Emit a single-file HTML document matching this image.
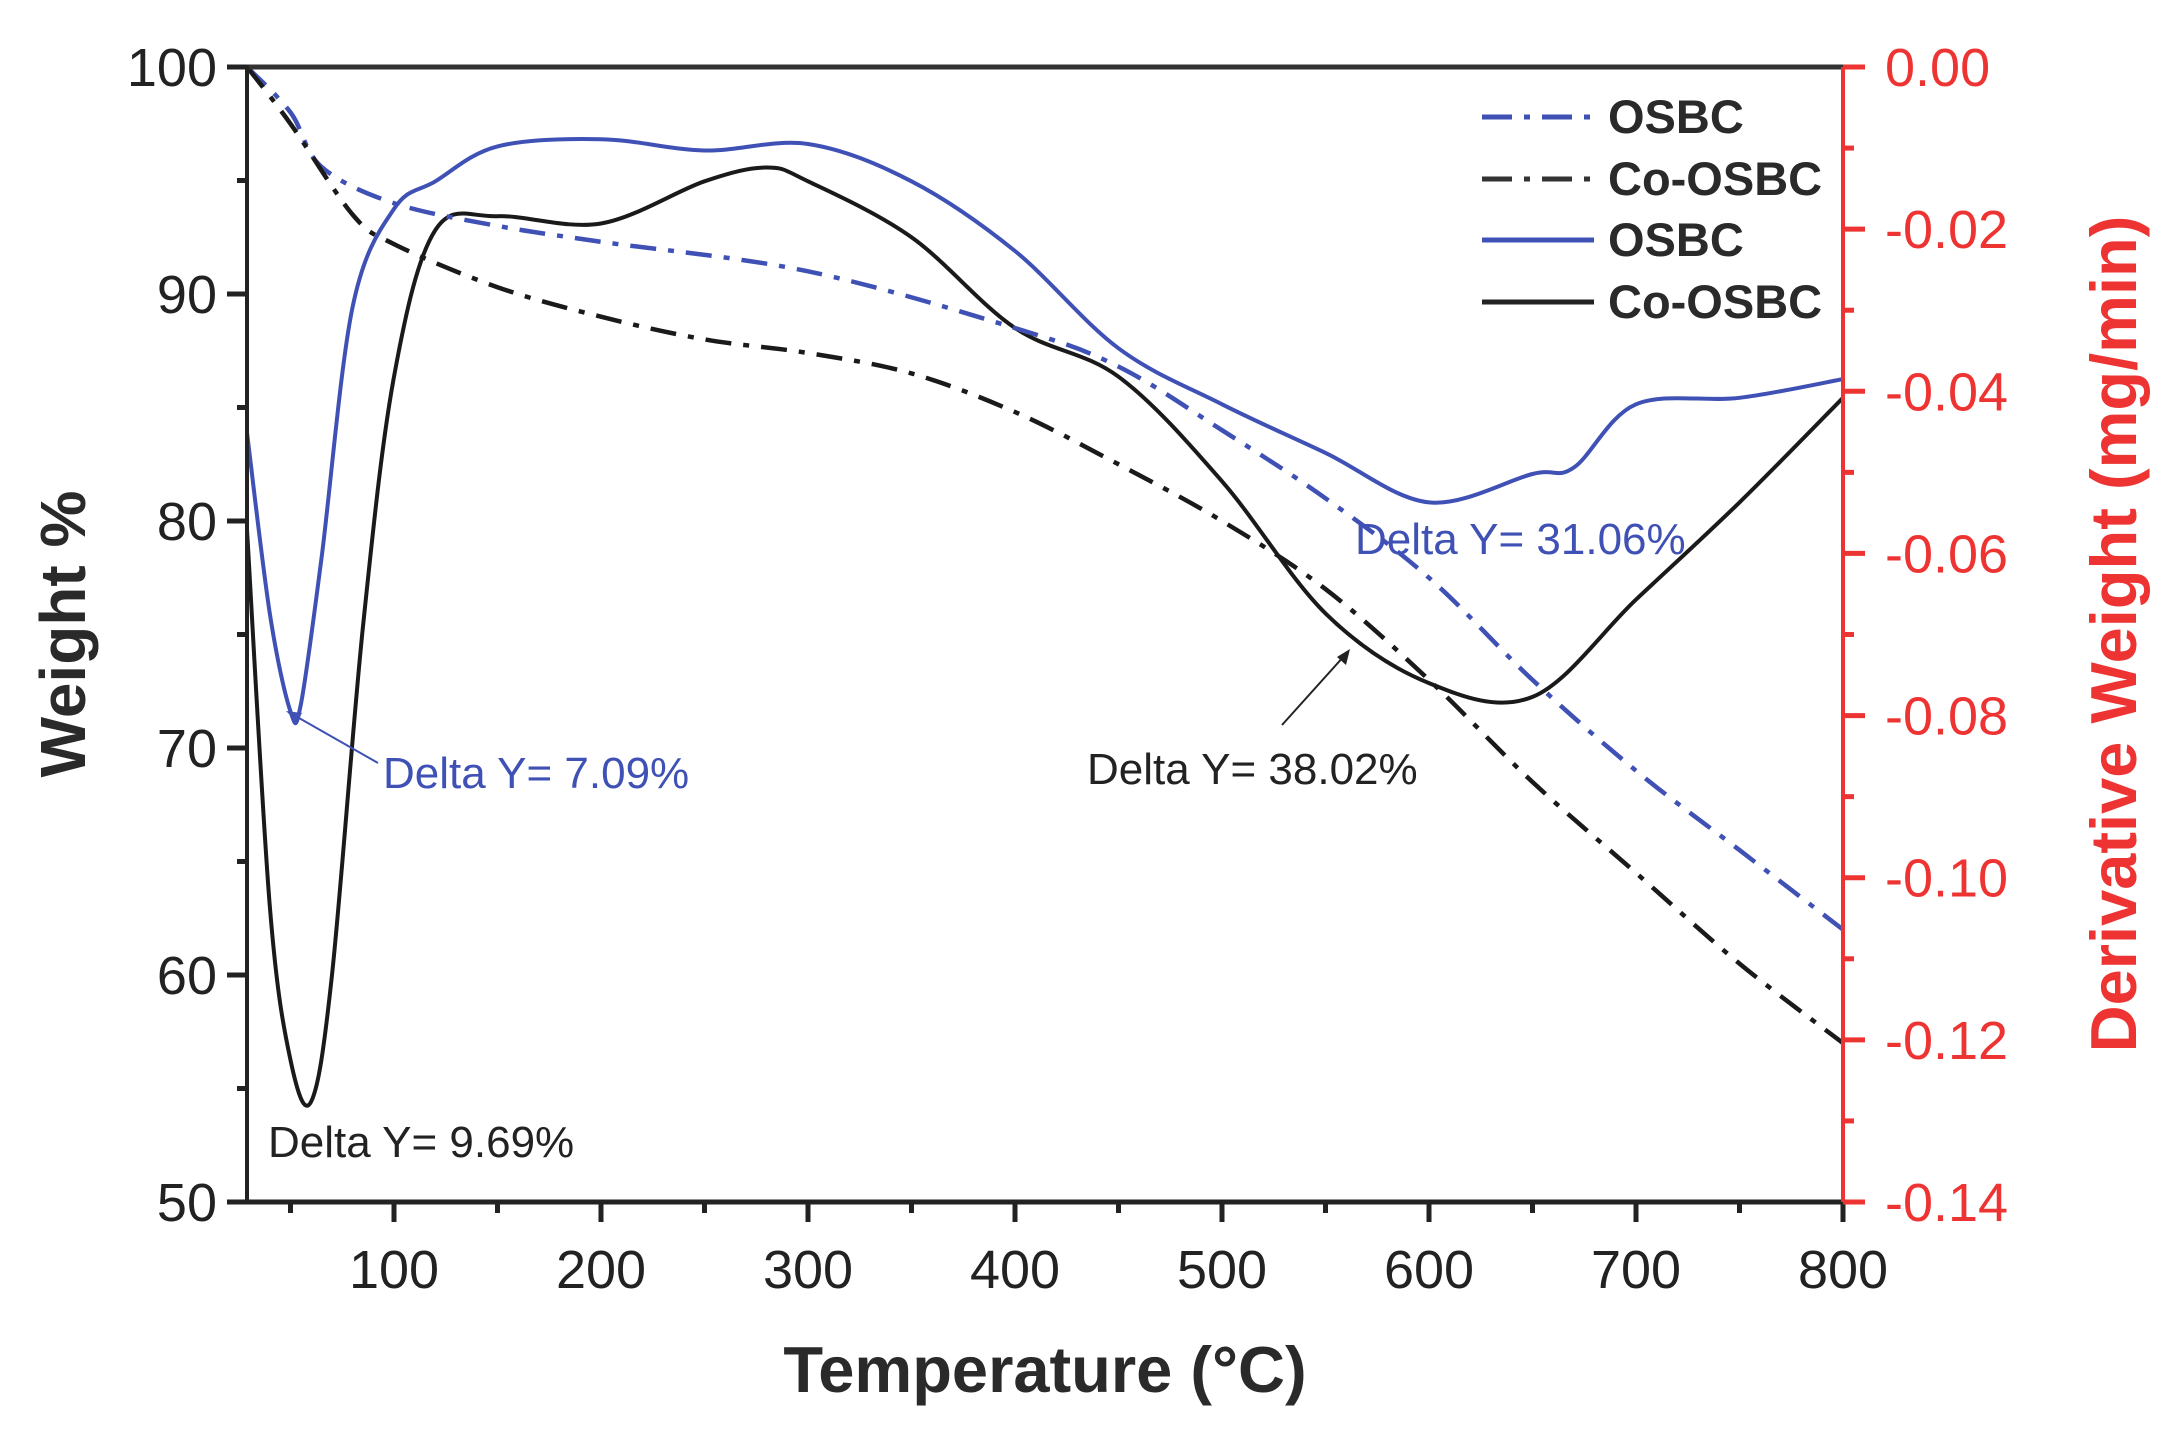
<!DOCTYPE html>
<html><head><meta charset="utf-8"><style>
html,body{margin:0;padding:0;background:#fff;}
svg{display:block;font-family:"Liberation Sans",Arial,sans-serif;}
</style></head><body>
<svg id="chart" width="2175" height="1453" viewBox="0 0 2175 1453">
<g id="marks"></g>
<g id="axes"></g>
</svg>
<script>
const osbcWeightT = [29,50,65,100,150,200,300,400,450,500,550,600,650,700,750,800];
const osbcWeight = [100,98,95.6,94,93,92.3,91,88.5,86.8,84,81,77.5,73,69,65.5,62];
const coWeightT = [29,50,80,100,150,200,250,300,350,400,450,500,550,600,650,700,750,800];
const coWeight = [100,97.5,93.5,92.2,90.3,89,88,87.4,86.5,84.8,82.5,80,77,73,68.5,64.5,60.5,57];
const osbcDerivT = [29,40,50,55,65,80,100,120,150,200,250,300,350,400,450,500,550,600,650,670,700,750,800];
const osbcDeriv = [-0.0451,-0.0674,-0.0795,-0.0786,-0.0605,-0.0296,-0.0175,-0.0141,-0.0098,-0.0089,-0.0103,-0.0095,-0.0141,-0.0227,-0.0347,-0.0416,-0.0476,-0.0537,-0.0502,-0.0494,-0.0416,-0.0408,-0.0385];
const coDerivT = [29,40,50,60,70,85,100,120,150,200,250,280,300,350,400,450,500,550,600,650,700,750,800];
const coDeriv = [-0.0571,-0.1035,-0.1225,-0.1276,-0.1121,-0.0691,-0.0382,-0.0201,-0.0184,-0.0193,-0.0141,-0.0124,-0.0141,-0.021,-0.0322,-0.0382,-0.0511,-0.0674,-0.076,-0.0777,-0.0657,-0.0537,-0.0408];
const xTicks = [100,200,300,400,500,600,700,800];
const yTicks = [50,60,70,80,90,100];
const y2Ticks = [0,-0.02,-0.04,-0.06,-0.08,-0.10,-0.12,-0.14];
const y2Labels = ["0.00","-0.02","-0.04","-0.06","-0.08","-0.10","-0.12","-0.14"];

const L=247,R=1843,T=67,B=1202;
const xS=t=>394+(t-100)*(R-394)/700;
const yS=w=>T+(100-w)*(B-T)/50;
const y2S=d=>T+(-d)*(B-T)/0.14;
const NS="http://www.w3.org/2000/svg";
const marks=document.getElementById('marks'), axes=document.getElementById('axes');
function mk(tag,attrs,parent){const e=document.createElementNS(NS,tag);for(const k in attrs)e.setAttribute(k,attrs[k]);parent.appendChild(e);return e;}
function path(xs,ys,fy){
  const P=xs.map((t,i)=>[xS(t),fy(ys[i])]);
  let d='M'+P[0][0].toFixed(1)+','+P[0][1].toFixed(1);
  for(let i=0;i<P.length-1;i++){
    const p0=P[Math.max(0,i-1)],p1=P[i],p2=P[i+1],p3=P[Math.min(P.length-1,i+2)];
    const k=1/6;
    const c1=[p1[0]+(p2[0]-p0[0])*k,p1[1]+(p2[1]-p0[1])*k];
    const c2=[p2[0]-(p3[0]-p1[0])*k,p2[1]-(p3[1]-p1[1])*k];
    d+=' C'+c1.map(v=>v.toFixed(1)).join(',')+' '+c2.map(v=>v.toFixed(1)).join(',')+' '+p2.map(v=>v.toFixed(1)).join(',');
  }
  return d;
}

let p;
p=mk('path',{d:path(osbcDerivT,osbcDeriv,y2S),fill:'none',stroke:'#3f51b5','stroke-width':4,'stroke-linejoin':'round'},marks);


p=mk('path',{d:path(coDerivT,coDeriv,y2S),fill:'none',stroke:'#1a1a1a','stroke-width':4,'stroke-linejoin':'round'},marks);


p=mk('path',{d:path(osbcWeightT,osbcWeight,yS),fill:'none',stroke:'#3f51b5','stroke-width':4.5,'stroke-dasharray':'26,12,6,12'},marks);


p=mk('path',{d:path(coWeightT,coWeight,yS),fill:'none',stroke:'#1a1a1a','stroke-width':4.5,'stroke-dasharray':'26,12,6,12'},marks);



mk('line',{x1:L,y1:T,x2:R,y2:T,stroke:'#333','stroke-width':5},axes);
mk('line',{x1:L,y1:T-2,x2:L,y2:B+2,stroke:'#222','stroke-width':4},axes);
mk('line',{x1:L-2,y1:B,x2:R,y2:B,stroke:'#222','stroke-width':5},axes);
mk('line',{x1:R,y1:T,x2:R,y2:B+2,stroke:'#ee3333','stroke-width':4},axes);

yTicks.forEach((v,i)=>{
  mk('line',{x1:L-20,y1:yS(v),x2:L,y2:yS(v),stroke:'#222','stroke-width':5},axes);
  if(i<yTicks.length-1) mk('line',{x1:L-10,y1:yS(v+5),x2:L,y2:yS(v+5),stroke:'#222','stroke-width':5},axes);
  const t=mk('text',{x:L-30,y:yS(v)+19,'text-anchor':'end','font-size':54,fill:'#222'},axes);t.textContent=v;
  
  
});
xTicks.forEach((v,i)=>{
  mk('line',{x1:xS(v),y1:B,x2:xS(v),y2:B+20,stroke:'#222','stroke-width':5},axes);
  mk('line',{x1:xS(v-50),y1:B,x2:xS(v-50),y2:B+11,stroke:'#222','stroke-width':5},axes);
  const t=mk('text',{x:xS(v),y:B+86,'text-anchor':'middle','font-size':54,fill:'#222'},axes);t.textContent=v;
  
  
});
y2Ticks.forEach((v,i)=>{
  mk('line',{x1:R,y1:y2S(v),x2:R+22,y2:y2S(v),stroke:'#ee3333','stroke-width':5},axes);
  if(i<y2Ticks.length-1) mk('line',{x1:R,y1:y2S(v-0.01),x2:R+11,y2:y2S(v-0.01),stroke:'#ee3333','stroke-width':5},axes);
  const t=mk('text',{x:R+42,y:y2S(v)+19,'font-size':54,fill:'#ee3333'},axes);t.textContent=y2Labels[i];
  
  
});
</script>
<svg width="2175" height="1453" style="position:absolute;left:0;top:0" font-family="Liberation Sans, Arial, sans-serif">
<text x="1045" y="1392" text-anchor="middle" font-size="65" font-weight="bold" fill="#2a2a2a">Temperature (°C)</text>
<text transform="translate(85,634) rotate(-90)" text-anchor="middle" font-size="64" font-weight="bold" fill="#2a2a2a">Weight %</text>
<text transform="translate(2136,634) rotate(-90)" text-anchor="middle" font-size="65" font-weight="bold" fill="#ee3333">Derivative Weight (mg/min)</text>
<g font-size="47" font-weight="bold" fill="#2a2a2a">
<line x1="1482" y1="117" x2="1594" y2="117" stroke="#3f51b5" stroke-width="5" stroke-dasharray="30,12,6,12"/>
<text x="1608" y="133">OSBC</text>
<line x1="1482" y1="179" x2="1594" y2="179" stroke="#333" stroke-width="5" stroke-dasharray="30,12,6,12"/>
<text x="1608" y="195">Co-OSBC</text>
<line x1="1482" y1="240" x2="1594" y2="240" stroke="#3f51b5" stroke-width="5"/>
<text x="1608" y="256">OSBC</text>
<line x1="1482" y1="302" x2="1594" y2="302" stroke="#222" stroke-width="5"/>
<text x="1608" y="318">Co-OSBC</text>
</g>
<g font-size="44">
<line x1="378" y1="763" x2="292" y2="714" stroke="#3f51b5" stroke-width="2"/>
<polygon points="286,711 302,713 297,722" fill="#3f51b5"/>
<text x="383" y="788" fill="#3f51b5">Delta Y= 7.09%</text>
<text x="268" y="1157" fill="#222">Delta Y= 9.69%</text>
<line x1="1282" y1="725" x2="1345" y2="655" stroke="#222" stroke-width="2"/>
<polygon points="1350,649 1346,665 1337,657" fill="#222"/>
<text x="1087" y="784" fill="#222">Delta Y= 38.02%</text>
<text x="1355" y="554" fill="#3f51b5">Delta Y= 31.06%</text>
</g>
</svg>
</body></html>
